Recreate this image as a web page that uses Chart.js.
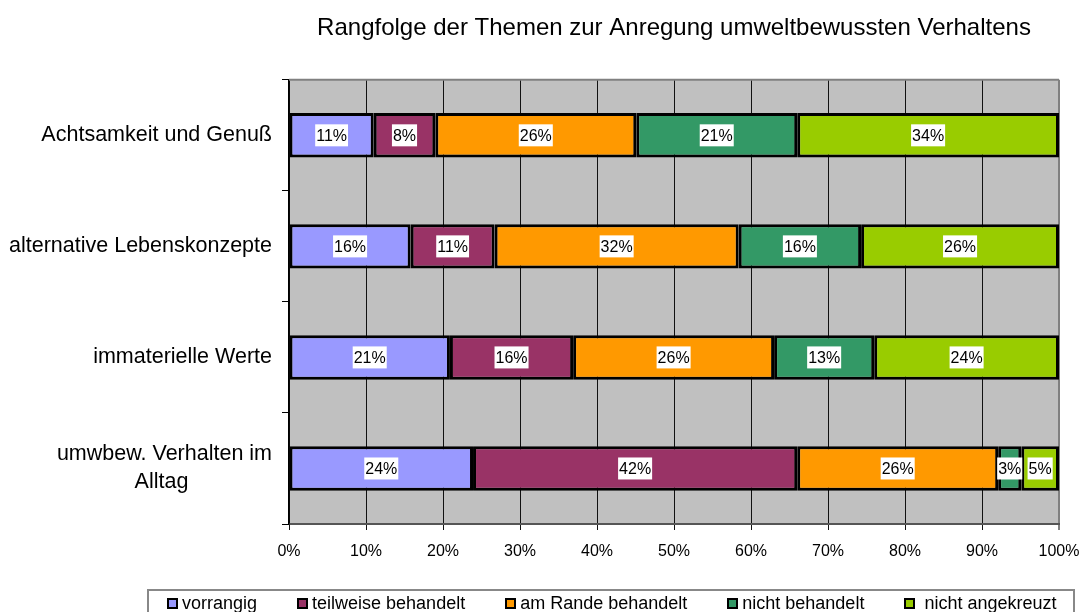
<!DOCTYPE html>
<html>
<head>
<meta charset="utf-8">
<script src="https://cdn.jsdelivr.net/npm/chart.js"></script>
<style>
  body { margin: 0; background: #fff; overflow: hidden; font-family: "Liberation Sans", Arial, sans-serif; }
  #wrap { position: relative; width: 1087px; height: 612px; }
  #legend {
    position: absolute; left: 147px; top: 589px; width: 928px; height: 40px;
    border: 2px solid #888; box-sizing: border-box;
    display: flex; align-items: flex-start; padding: 2px 0 0 18px; gap: 40px;
    font-size: 18px; color: #000; white-space: nowrap;
  }
  #legend .item { display: flex; align-items: center; gap: 4px; line-height: 21px; }
  #legend .box { width: 11px; height: 11px; border: 2px solid #000; box-sizing: border-box; }
</style>
</head>
<body>
<div id="wrap">
  <canvas id="rankChart"></canvas>
  <div id="legend"></div>
</div>
<script>
// categories, top to bottom
let categories = ['Achtsamkeit und Genuß', 'alternative Lebenskonzepte', 'immaterielle Werte', ['umwbew. Verhalten im', 'Alltag']]

// shares in percent
let vorrangig = [11.0, 15.8, 20.9, 23.9]
let teilweise = [8.0, 10.9, 16.0, 42.1]
let amRande = [26.1, 31.7, 26.1, 26.1]
let nichtBehandelt = [20.9, 15.9, 13.0, 3.0]
let nichtAngekreuzt = [34.0, 25.7, 24.0, 4.9]

let seriesNames = ['vorrangig', 'teilweise behandelt', 'am Rande behandelt', 'nicht behandelt', 'nicht angekreuzt']
let seriesColors = ['#9999FF', '#993366', '#FF9900', '#339966', '#99CC00']
let seriesData = [vorrangig, teilweise, amRande, nichtBehandelt, nichtAngekreuzt]

let xTicks = [0, 10, 20, 30, 40, 50, 60, 70, 80, 90, 100]

const FONT = '"Liberation Sans", Arial, sans-serif'
Chart.defaults.font.family = FONT
Chart.defaults.color = '#000'

// centres the lines of a wrapped label (excel style) while keeping it right aligned
let mctx = document.createElement('canvas').getContext('2d')
mctx.font = '21.5px ' + FONT
function centerLines(lbl){
    if(!Array.isArray(lbl)) return lbl
    let ws = lbl.map(t => mctx.measureText(t).width)
    let max = Math.max(...ws)
    let sp = mctx.measureText(' ').width
    return lbl.map((t, i) => t + ' '.repeat(Math.round((max - ws[i]) / 2 / sp)))
}

// grey plot background + top border
const plotBg = {
    id: 'plotBg',
    beforeDraw(chart){
        let {ctx, chartArea: a} = chart
        ctx.save()
        ctx.fillStyle = '#C0C0C0'
        ctx.fillRect(a.left, a.top, a.right - a.left, a.bottom - a.top)
        ctx.restore()
    },
    afterDraw(chart){
        let {ctx, chartArea: a} = chart
        ctx.save()
        ctx.strokeStyle = '#808080'
        ctx.lineWidth = 2
        ctx.beginPath()
        ctx.moveTo(a.left, a.top)
        ctx.lineTo(a.right, a.top)
        ctx.stroke()
        ctx.restore()
    }
}

// white boxed percentage labels in the middle of each segment
const segLabels = {
    id: 'segLabels',
    afterDatasetsDraw(chart){
        let ctx = chart.ctx
        ctx.save()
        ctx.font = '16px ' + FONT
        ctx.textAlign = 'center'
        ctx.textBaseline = 'middle'
        chart.data.datasets.forEach((ds, i) => {
            chart.getDatasetMeta(i).data.forEach((bar, j) => {
                let p = bar.getProps(['x', 'y', 'base'], true)
                let cx = (p.x + p.base) / 2
                let txt = Math.round(ds.data[j]) + '%'
                let w = ctx.measureText(txt).width + 2
                ctx.fillStyle = '#fff'
                ctx.fillRect(cx - w / 2, p.y - 11, w, 22)
                ctx.fillStyle = '#000'
                ctx.fillText(txt, cx, p.y + 1)
            })
        })
        ctx.restore()
    }
}

let ctx = document.getElementById('rankChart').getContext('2d')
let myChart = new Chart(ctx, {
    type: 'bar',
    data: {
        labels: categories,
        datasets: seriesNames.map((name, i) => ({
            label: name,
            data: seriesData[i],
            backgroundColor: seriesColors[i],
            borderColor: '#000',
            borderWidth: 3,
            borderSkipped: false,
            barPercentage: 0.4,
            categoryPercentage: 1
        }))
    },
    options: {
        indexAxis: 'y',
        responsive: true,
        maintainAspectRatio: false,
        animation: false,
        layout: { padding: { left: 0, right: 28, top: 0, bottom: 0 } },
        plugins: {
            legend: { display: false },
            tooltip: { enabled: false },
            title: {
                display: true,
                fullSize: false,
                text: 'Rangfolge der Themen zur Anregung umweltbewussten Verhaltens',
                color: '#000',
                font: { size: 24, weight: 'normal', lineHeight: 1.2 },
                padding: { top: 14, bottom: 37 }
            }
        },
        scales: {
            x: {
                stacked: true,
                min: 0,
                max: 100,
                afterBuildTicks(s){ s.ticks = xTicks.map(v => ({ value: v })) },
                ticks: {
                    callback: v => v + '%',
                    font: { size: 16 },
                    padding: 12,
                    maxRotation: 0,
                    color: '#000'
                },
                grid: {
                    color: c => c.index === xTicks.length - 1 ? '#808080' : '#111',
                    lineWidth: c => c.index === xTicks.length - 1 ? 2 : 1,
                    tickLength: 6
                },
                border: { color: '#555', width: 2 },
                afterFit(s){
                    s.height = 88
                    s.paddingRight = 0
                }
            },
            y: {
                stacked: true,
                ticks: {
                    callback: function(v){ return centerLines(this.getLabelForValue(v)) },
                    font: { size: 21.5, lineHeight: 1.3 },
                    padding: 10,
                    color: '#000'
                },
                grid: {
                    drawOnChartArea: false,
                    drawTicks: true,
                    tickLength: 7,
                    color: '#000',
                    offset: true
                },
                border: { color: '#000', width: 1.5 },
                afterFit(s){ s.width = 289 }
            }
        }
    },
    plugins: [plotBg, segLabels]
})

// legend in the box under the chart
let legendDiv = document.getElementById('legend')
seriesNames.forEach((name, i) => {
    let item = document.createElement('div')
    item.className = 'item'
    let box = document.createElement('span')
    box.className = 'box'
    box.style.background = seriesColors[i]
    let txt = document.createElement('span')
    txt.textContent = (i === seriesNames.length - 1 ? '\u00a0' : '') + name
    item.appendChild(box)
    item.appendChild(txt)
    legendDiv.appendChild(item)
})
</script>
</body>
</html>
